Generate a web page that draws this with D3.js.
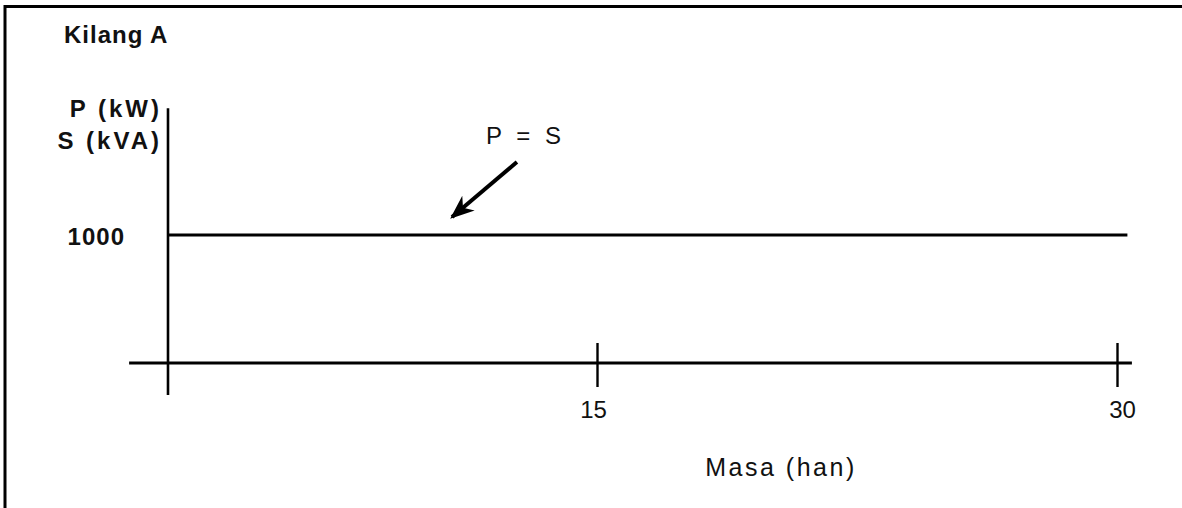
<!DOCTYPE html>
<html>
<head>
<meta charset="utf-8">
<script src="https://cdn.jsdelivr.net/npm/d3@7"></script>
<style>
  body { margin: 0; background: #fff; }
  text { font-family: "Liberation Sans", Arial, Helvetica, sans-serif; fill: #111; }
  .lbl { font-size: 24px; font-weight: bold; letter-spacing: 1px; }
  .tick text { font-size: 24px; }
</style>
</head>
<body>
<div id="chart"></div>
<script>
// data
const days = [0, 30.3];
const power = [1000, 1000];      // P = S (kW / kVA)
const xTicks = [15, 30];
const yTicks = [1000];
const title = "Kilang A";
const yLabels = ["P (kW)", "S (kVA)"];
const xAxisLabel = "Masa (han)";
const lineLabel = "P = S";

var width = 1182
var height = 508

var svg = d3.select("#chart").append("svg")
    .attr("width", width)
    .attr("height", height)

// border (only top + left visible in the scan)
svg.append("path")
    .attr("d", `M5,${height} V6.5 H${width}`)
    .attr("fill", "none")
    .attr("stroke", "#000")
    .attr("stroke-width", 3)

// hand drawn axis: the two halves are not the same length
const xScale = d3.scaleLinear().domain([0, 15, 30]).range([168, 597, 1117]);
const yScale = d3.scaleLinear().domain([0, 1000]).range([363, 235]);

const g = svg.append("g");

// axis lines cross each other a bit
g.append("line")
    .attr("x1", xScale(0)).attr("x2", xScale(0))
    .attr("y1", yScale(-250)).attr("y2", yScale(1990))
    .attr("stroke", "#000").attr("stroke-width", 2.6);

g.append("line")
    .attr("x1", xScale(-1.36)).attr("x2", xScale(30.43))
    .attr("y1", yScale(0)).attr("y2", yScale(0))
    .attr("stroke", "#000").attr("stroke-width", 3);

const xAxis = d3.axisBottom(xScale)
    .tickValues(xTicks)
    .tickSize(24)
    .tickPadding(14);

const xAxisG = g.append("g")
    .attr("transform", `translate(0, ${yScale(0)})`)
    .call(xAxis);
xAxisG.select(".domain").remove();
xAxisG.selectAll(".tick line")
    .attr("y1", -20)
    .attr("stroke", "#000")
    .attr("stroke-width", 2.4);
xAxisG.selectAll(".tick text")
    .attr("fill", "#111")
    .attr("font-family", null)
    .attr("font-size", null)
    .attr("dx", d => d == 30 ? 5 : -4);

const yAxis = d3.axisLeft(yScale)
    .tickValues(yTicks)
    .tickFormat(d3.format("d"))
    .tickSize(0)
    .tickPadding(43);

const yAxisG = g.append("g")
    .attr("transform", `translate(${xScale(0)}, 0)`)
    .call(yAxis);
yAxisG.select(".domain").remove();
yAxisG.selectAll(".tick text")
    .attr("class", "lbl")
    .attr("fill", "#111")
    .attr("font-family", null)
    .attr("font-size", null)
    .attr("dy", "0.38em");

// P = S line
const line = d3.line()
    .x(d => xScale(d[0]))
    .y(d => yScale(d[1]));

g.append("path")
    .datum(days.map((d, i) => [d, power[i]]))
    .attr("d", line)
    .attr("fill", "none")
    .attr("stroke", "#000")
    .attr("stroke-width", 3);

// labels
svg.append("text")
    .attr("class", "lbl")
    .attr("x", 64)
    .attr("y", 43)
    .text(title);

svg.selectAll(".ylab").data(yLabels)
    .enter().append("text")
    .attr("class", "lbl")
    .style("letter-spacing", "3px")
    .attr("text-anchor", "end")
    .attr("x", 162)
    .attr("y", (d, i) => 117 + i * 32)
    .text(d => d);

svg.append("text")
    .attr("class", "lbl")
    .style("font-weight", "normal")
    .style("letter-spacing", "2.5px")
    .style("font-size", "25px")
    .attr("x", 781)
    .attr("y", 476)
    .attr("text-anchor", "middle")
    .text(xAxisLabel);

// annotation arrow
svg.append("defs").append("marker")
    .attr("id", "head")
    .attr("viewBox", "0 0 10 10")
    .attr("refX", 9).attr("refY", 5)
    .attr("markerWidth", 6).attr("markerHeight", 6)
    .attr("markerUnits", "strokeWidth")
    .attr("orient", "auto")
    .append("path")
    .attr("d", "M0,1 L10,5 L0,9 L3,5 Z")
    .attr("fill", "#000");

g.append("line")
    .attr("x1", xScale(12.2)).attr("y1", yScale(1570))
    .attr("x2", xScale(9.93)).attr("y2", yScale(1140))
    .attr("stroke", "#000")
    .attr("stroke-width", 4)
    .attr("marker-end", "url(#head)");

g.append("text")
    .attr("class", "lbl")
    .style("font-weight", "normal")
    .style("word-spacing", "6px")
    .attr("x", xScale(12.45))
    .attr("y", 144)
    .attr("text-anchor", "middle")
    .text(lineLabel);
</script>
</body>
</html>
